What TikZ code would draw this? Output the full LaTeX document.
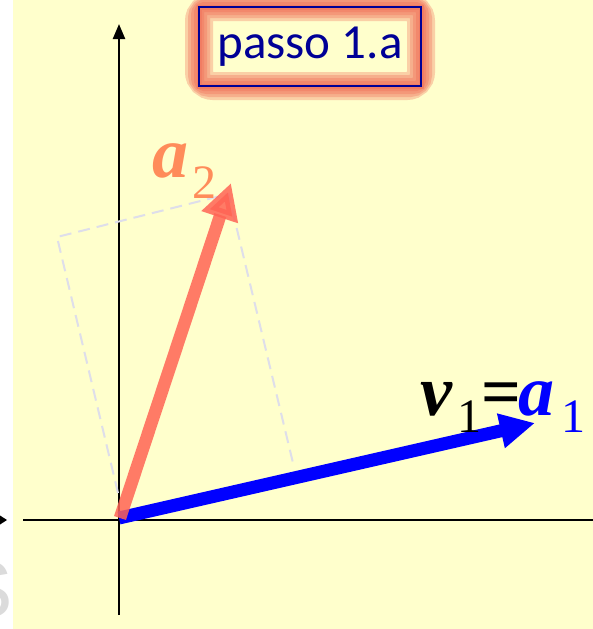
\documentclass[tikz,border=0pt]{standalone}
\usepackage{fontspec}
\setmainfont{Liberation Serif}
\newfontfamily\carl{Carlito}
\newfontfamily\wmfont{Liberation Sans}
\usetikzlibrary{arrows.meta}
\definecolor{bgyel}{RGB}{255,255,204}
\definecolor{navy}{RGB}{0,0,150}
\definecolor{glowc}{RGB}{240,100,80}
\definecolor{salm}{RGB}{255,100,85}
\definecolor{lblor}{RGB}{255,140,90}
\definecolor{dashc}{RGB}{222,222,234}
\definecolor{bluev}{RGB}{0,0,255}
\tikzset{
  axisline/.style={black, line width=2.4pt},
  glowline/.style={glowc, opacity=0.3},
  bigmath/.style={anchor=base west, inner sep=0pt, font=\fontsize{72}{72}\selectfont\bfseries\itshape},
  submath/.style={anchor=base west, inner sep=0pt, font=\fontsize{48}{48}\selectfont},
}
\begin{document}
\begin{tikzpicture}[x=1pt,y=-1pt]
\useasboundingbox (0,0) rectangle (593,629);
\fill[white] (0,0) rectangle (13,629);
\fill[bgyel] (13,0) rectangle (593,629);
% watermark fragment and cut-off arrow at left edge
\begin{scope}
  \clip (0,540) rectangle (13,629);
  \node[text=black!14, font=\fontsize{80}{80}\selectfont\wmfont, anchor=east, inner sep=0pt] (wm) at (13,590) {S};
\end{scope}
\fill[black] (0,515.5) -- (7,520) -- (0,524.5) -- cycle;
% axes
\coordinate (O) at (119,520);
\coordinate (xl) at (23,520);
\coordinate (xr) at (593,520);
\coordinate (yb) at (119,615);
\coordinate (yt) at (119,24);
\draw[axisline] (xl) -- (xr);
\draw[axisline, -{Triangle[length=15pt,width=12pt]}] (yb) -- (yt);
% dashed projection rectangle
\coordinate (r1) at (118,493);
\coordinate (r2) at (57,237);
\coordinate (r3) at (228.5,194);
\coordinate (r4) at (293,463);
\draw[dashc, line width=2pt, dash pattern=on 12pt off 7pt] (r1) -- (r2) -- (r3) -- (r4);
% vectors
\coordinate (a1s) at (119,518);
\coordinate (a1e) at (535,423);
\coordinate (a2s) at (120,518);
\coordinate (a2e) at (231,183);
\draw[bluev, line width=13pt, -{Triangle[length=35pt,width=33pt]}] (a1s) -- (a1e);
\draw[salm, opacity=0.85, line width=12.5pt, -{Triangle[length=36pt,width=36pt]}] (a2s) -- (a2e);
% title with glow
\coordinate (tl) at (199,7);
\coordinate (br) at (421,86);
\draw[glowline, line width=28pt, rounded corners=14pt] (tl) rectangle (br);
\draw[glowline, line width=22pt, rounded corners=11pt] (tl) rectangle (br);
\draw[glowline, line width=16pt, rounded corners=8pt] (tl) rectangle (br);
\draw[glowline, line width=10pt, rounded corners=5pt] (tl) rectangle (br);
\draw[glowline, line width=5pt] (tl) rectangle (br);
\node[draw=navy, line width=1.3pt, minimum width=222pt, minimum height=79pt, inner sep=0pt,
      text=navy, font=\carl\fontsize{49}{49}\selectfont] (title) at (310,46.5) {passo 1.a};
% labels
\node[bigmath, text=lblor] (la2) at (152,177) {a};
\node[submath, text=lblor] (la2s) at (192,198) {2};
\node[bigmath, text=black] (lv) at (420,415) {v};
\node[submath, text=black] (lvs) at (457,432) {1};
\node[anchor=base west, inner sep=0pt, font=\fontsize{70}{70}\selectfont\bfseries] (leq) at (481,415) {=};
\node[bigmath, text=bluev] (la1) at (518,415) {a};
\node[submath, text=bluev] (la1s) at (561,432) {1};
\end{tikzpicture}
\end{document}
